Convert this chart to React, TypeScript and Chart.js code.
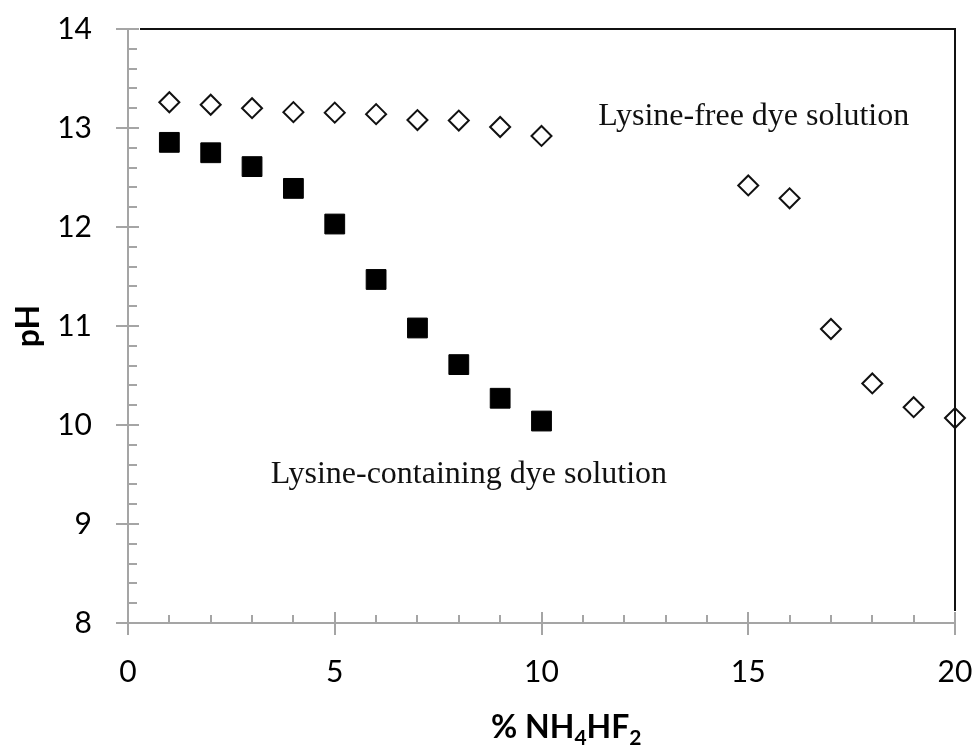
import React, { useEffect, useRef } from 'react';
import { Chart, registerables } from 'chart.js';

Chart.register(...registerables);

// ---- Data ----
const lysineFreeX = [1, 2, 3, 4, 5, 6, 7, 8, 9, 10, 15, 16, 17, 18, 19, 20];
const lysineFreePH = [13.26, 13.235, 13.2, 13.16, 13.155, 13.14, 13.08, 13.075, 13.01, 12.92, 12.42, 12.29, 10.97, 10.42, 10.18, 10.07];
const lysineX = [1, 2, 3, 4, 5, 6, 7, 8, 9, 10];
const lysinePH = [12.855, 12.75, 12.61, 12.39, 12.03, 11.47, 10.98, 10.61, 10.27, 10.04];

// ---- Axes ----
const X_MIN = 0;
const X_MAX = 20;
const X_MAJOR = 5;
const X_MINOR = 1;
const Y_MIN = 8;
const Y_MAX = 14;
const Y_MAJOR = 1;
const Y_MINOR = 0.2;

// ---- Texts ----
const Y_TITLE = 'pH';
const X_TITLE_PARTS: [string, boolean][] = [
  ['% NH', false],
  ['4', true],
  ['HF', false],
  ['2', true],
];
const LABEL_FREE = 'Lysine-free dye solution';
const LABEL_LYSINE = 'Lysine-containing dye solution';
// annotation anchors (left, baseline) in data coordinates
const LABEL_FREE_AT = [11.37, 13.035];
const LABEL_LYSINE_AT = [3.45, 9.417];
// x title centre (data units)
const X_TITLE_CENTER = 10.6;

const GRAY = '#a5a5a5';
const SANS = 'Lato, "Open Sans", sans-serif';
const SERIF = '"Liberation Serif", "Times New Roman", serif';

const axesPlugin = {
  id: 'excelAxes',
  beforeDatasetsDraw(chart: any) {
    const { ctx, scales } = chart;
    const xs = scales.x;
    const ys = scales.y;
    const x0 = Math.round(xs.getPixelForValue(X_MIN));
    const x1 = Math.round(xs.getPixelForValue(X_MAX));
    const y0 = Math.round(ys.getPixelForValue(Y_MIN));
    const y1 = Math.round(ys.getPixelForValue(Y_MAX));
    ctx.save();
    ctx.strokeStyle = GRAY;
    ctx.lineWidth = 2;
    ctx.beginPath();
    ctx.moveTo(x0, y1);
    ctx.lineTo(x0, y0);
    ctx.moveTo(x0, y0);
    ctx.lineTo(x1, y0);
    const ny = Math.round((Y_MAX - Y_MIN) / Y_MINOR);
    const yRatio = Math.round(Y_MAJOR / Y_MINOR);
    for (let i = 0; i <= ny; i++) {
      const py = Math.round(ys.getPixelForValue(Y_MIN + i * Y_MINOR));
      if (i % yRatio === 0) {
        ctx.moveTo(x0 - 12, py);
        ctx.lineTo(x0 + 11, py);
      } else {
        ctx.moveTo(x0, py);
        ctx.lineTo(x0 + 9, py);
      }
    }
    const nx = Math.round((X_MAX - X_MIN) / X_MINOR);
    const xRatio = Math.round(X_MAJOR / X_MINOR);
    for (let i = 0; i <= nx; i++) {
      const px = Math.round(xs.getPixelForValue(X_MIN + i * X_MINOR));
      if (i % xRatio === 0) {
        ctx.moveTo(px, y0 - 11);
        ctx.lineTo(px, y0 + 12);
      } else {
        ctx.moveTo(px, y0 - 8);
        ctx.lineTo(px, y0);
      }
    }
    ctx.stroke();
    ctx.restore();
  },
  afterDatasetsDraw(chart: any) {
    const { ctx, scales } = chart;
    const xs = scales.x;
    const ys = scales.y;
    const x0 = Math.round(xs.getPixelForValue(X_MIN));
    const x1 = Math.round(xs.getPixelForValue(X_MAX));
    const y0 = Math.round(ys.getPixelForValue(Y_MIN));
    const y1 = Math.round(ys.getPixelForValue(Y_MAX));
    ctx.save();
    ctx.strokeStyle = '#111';
    ctx.lineWidth = 2;
    ctx.beginPath();
    ctx.moveTo(x0 + 12, y1);
    ctx.lineTo(x1, y1);
    ctx.lineTo(x1, y0 - 12);
    ctx.stroke();

    ctx.fillStyle = '#111';
    ctx.font = `32px ${SERIF}`;
    ctx.textAlign = 'left';
    ctx.textBaseline = 'alphabetic';
    ctx.fillText(LABEL_FREE, xs.getPixelForValue(LABEL_FREE_AT[0]), ys.getPixelForValue(LABEL_FREE_AT[1]));
    ctx.fillText(LABEL_LYSINE, xs.getPixelForValue(LABEL_LYSINE_AT[0]), ys.getPixelForValue(LABEL_LYSINE_AT[1]));

    const big = `bold 32px ${SANS}`;
    const small = `bold 21px ${SANS}`;
    let total = 0;
    for (const [t, sub] of X_TITLE_PARTS) {
      ctx.font = sub ? small : big;
      total += ctx.measureText(t).width;
    }
    let cx = xs.getPixelForValue(X_TITLE_CENTER) - total / 2;
    const baseY = y0 + 115;
    ctx.fillStyle = '#000';
    for (const [t, sub] of X_TITLE_PARTS) {
      ctx.font = sub ? small : big;
      ctx.fillText(t, cx, sub ? baseY + 7 : baseY);
      cx += ctx.measureText(t).width;
    }
    ctx.restore();
  },
};

export default function App() {
  const ref = useRef<HTMLCanvasElement | null>(null);
  useEffect(() => {
    document.body.style.margin = '0';
    const canvas = ref.current;
    if (!canvas) return;
    const chart = new Chart(canvas, {
      type: 'scatter',
      data: {
        datasets: [
          {
            label: LABEL_FREE,
            data: lysineFreeX.map((x, i) => ({ x, y: lysineFreePH[i] })),
            pointStyle: 'rectRot',
            pointRadius: 10,
            pointHoverRadius: 10,
            borderWidth: 2,
            borderColor: '#111',
            backgroundColor: '#ffffff',
            showLine: false,
            clip: false,
          },
          {
            label: LABEL_LYSINE,
            data: lysineX.map((x, i) => ({ x, y: lysinePH[i] })),
            pointStyle: 'rect',
            pointRadius: 14,
            pointHoverRadius: 14,
            borderWidth: 1,
            borderColor: '#000',
            backgroundColor: '#000',
            showLine: false,
            clip: false,
          },
        ],
      },
      options: {
        responsive: false,
        animation: false,
        events: [],
        layout: { padding: { top: 29, right: 22, left: 0, bottom: 0 } },
        plugins: {
          legend: { display: false },
          tooltip: { enabled: false },
          title: { display: false },
        },
        scales: {
          x: {
            type: 'linear',
            min: X_MIN,
            max: X_MAX,
            grid: { display: false, drawTicks: true, tickLength: 11 },
            border: { display: false },
            ticks: {
              stepSize: X_MAJOR,
              padding: 20,
              color: '#000',
              font: { family: SANS, size: 30 },
              maxRotation: 0,
            },
            afterFit: (s: any) => {
              s.height = 128;
              s.paddingLeft = 0;
              s.paddingRight = 0;
            },
          },
          y: {
            type: 'linear',
            min: Y_MIN,
            max: Y_MAX,
            grid: { display: false, drawTicks: true, tickLength: 11 },
            border: { display: false },
            ticks: {
              stepSize: Y_MAJOR,
              padding: 25,
              color: '#000',
              font: { family: SANS, size: 30 },
            },
            title: {
              display: true,
              text: Y_TITLE,
              color: '#000',
              font: { family: SANS, size: 32, weight: 'bold' },
              padding: { top: 9, bottom: 0 },
            },
            afterFit: (s: any) => {
              s.width = 128;
              s.paddingTop = 0;
              s.paddingBottom = 0;
            },
          },
        },
      },
      plugins: [axesPlugin],
    });
    return () => chart.destroy();
  }, []);
  return (
    <div style={{ position: 'fixed', left: 0, top: 0, width: 977, height: 751, background: '#fff' }}>
      <canvas ref={ref} width={977} height={751} />
    </div>
  );
}
